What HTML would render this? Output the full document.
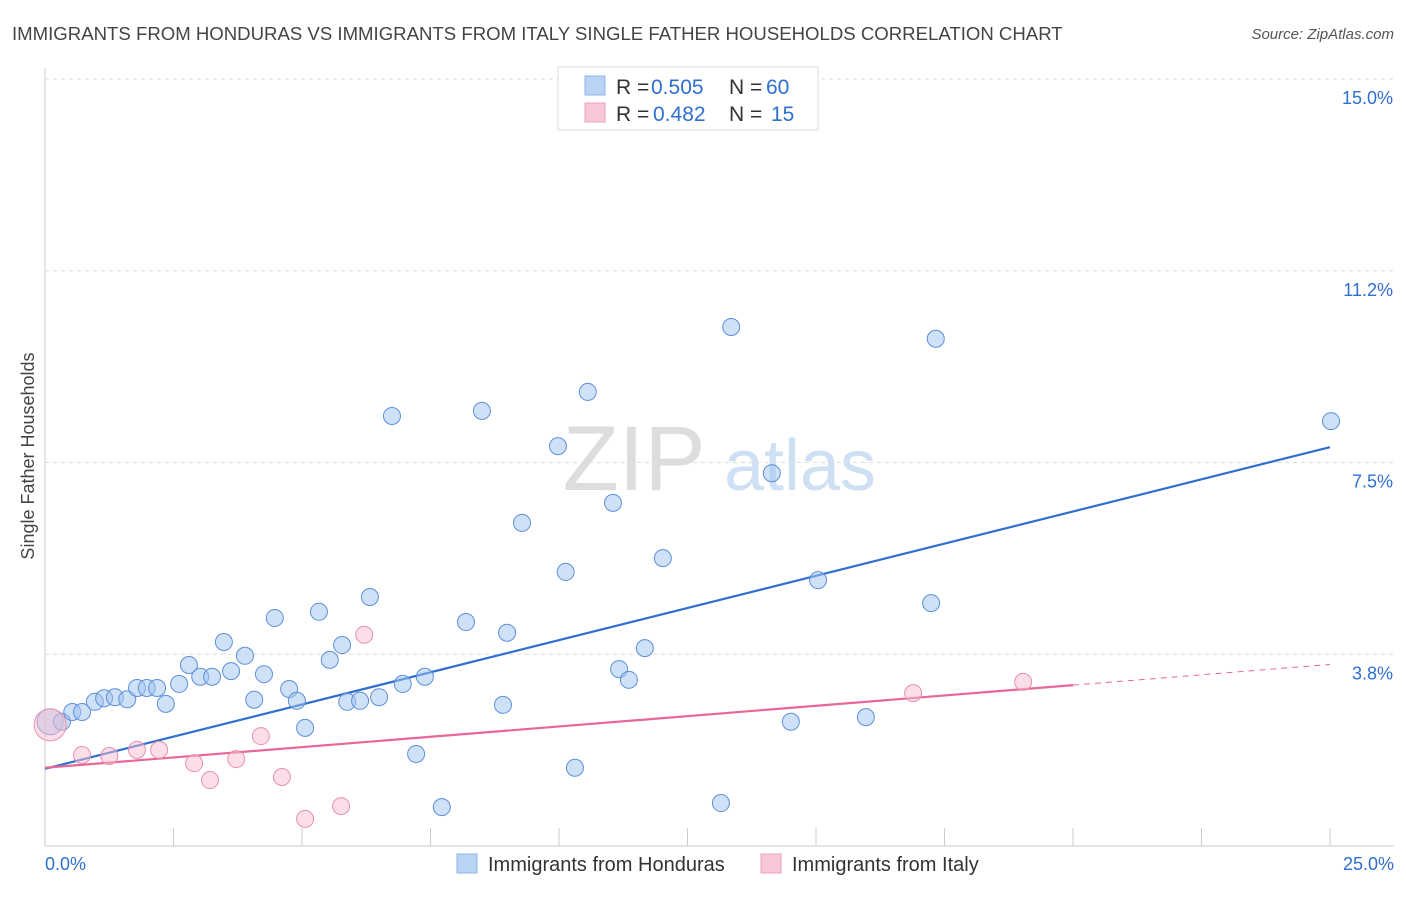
<!DOCTYPE html>
<html><head><meta charset="utf-8"><style>
body{margin:0;background:#fff;font-family:"Liberation Sans",sans-serif;}
svg text{font-family:"Liberation Sans",sans-serif;}
</style></head><body>
<svg id="chart" width="1406" height="892" xmlns="http://www.w3.org/2000/svg">
<text x="12" y="40" font-size="18.6" fill="#444">IMMIGRANTS FROM HONDURAS VS IMMIGRANTS FROM ITALY SINGLE FATHER HOUSEHOLDS CORRELATION CHART</text>
<text x="1394" y="39" font-size="15" fill="#555" font-style="italic" text-anchor="end">Source: ZipAtlas.com</text>
<text x="634" y="490" font-size="92" fill="#ddd" font-family="Liberation Serif" text-anchor="middle">ZIP</text>
<text x="800" y="490" font-size="72" fill="#cfe0f5" text-anchor="middle">atlas</text>
<text transform="translate(34,456) rotate(-90)" font-size="18" fill="#444" text-anchor="middle">Single Father Households</text>
<g id="grid"></g><g id="axes"></g><g id="lines"></g><g id="pts"></g>
<g>
<rect x="558" y="67" width="260" height="63" fill="#fff" stroke="#ddd"/>
<rect x="585" y="76" width="20" height="19" fill="#b9d3f5" stroke="#8fb5e8"/>
<rect x="585" y="103" width="20" height="19" fill="#f9c8d6" stroke="#f0a0b8"/>
<text x="616" y="94" font-size="21" fill="#333">R = <tspan x="651" fill="#2f6fd0">0.505</tspan></text>
<text x="729" y="94" font-size="21" fill="#333">N = <tspan x="766" fill="#2f6fd0">60</tspan></text>
<text x="616" y="121" font-size="21" fill="#333">R = <tspan x="653" fill="#2f6fd0">0.482</tspan></text>
<text x="729" y="121" font-size="21" fill="#333">N = <tspan x="771" fill="#2f6fd0">15</tspan></text>
</g>
<g>
<rect x="457" y="854" width="20" height="19" fill="#b9d3f5" stroke="#8fb5e8"/>
<text x="488" y="871" font-size="20" fill="#333">Immigrants from Honduras</text>
<rect x="761" y="854" width="20" height="19" fill="#f9c8d6" stroke="#f0a0b8"/>
<text x="792" y="871" font-size="20" fill="#333">Immigrants from Italy</text>
</g>
</svg>
<script>
const blueX=[0.10,0.33,0.53,0.72,0.97,1.15,1.36,1.60,1.79,1.98,2.18,2.35,2.61,2.80,3.02,3.25,3.48,3.62,3.89,4.07,4.26,4.47,4.75,4.90,5.06,5.33,5.54,5.78,5.88,6.13,6.32,6.50,6.75,6.96,7.22,7.39,7.72,8.19,8.50,8.91,8.99,9.28,9.98,10.13,10.31,10.56,11.05,11.17,11.36,11.67,12.02,13.15,13.35,14.14,14.51,15.04,15.97,17.24,17.33,25.02];
const blueY=[2.43,2.43,2.62,2.62,2.82,2.89,2.91,2.87,3.09,3.09,3.09,2.78,3.17,3.54,3.31,3.31,3.99,3.42,3.72,2.86,3.36,4.46,3.07,2.84,2.31,4.58,3.64,3.93,2.82,2.84,4.87,2.91,8.41,3.17,1.80,3.31,0.76,4.38,8.51,2.76,4.17,6.32,7.82,5.36,1.53,8.88,6.71,3.46,3.25,3.87,5.63,0.84,10.15,7.29,2.43,5.20,2.52,4.75,9.92,8.31];
const pinkX=[0.10,0.72,1.25,1.79,2.22,2.90,3.21,3.72,4.20,4.61,5.06,5.76,6.21,16.89,19.03];
const pinkY=[2.37,1.78,1.76,1.88,1.88,1.62,1.29,1.70,2.15,1.35,0.53,0.78,4.13,2.99,3.21];
const blueTrend=[1.51,7.80];
const pinkTrend=[1.53,3.55];
const yTicks=[3.8,7.5,11.2,15.0];
const yTickVals=[3.75,7.5,11.25,15.0];
const NS="http://www.w3.org/2000/svg";
const X=v=>45+v/25*1285, Y=v=>846-v/15*767;
function mk(tag,attrs,parent,text){const e=document.createElementNS(NS,tag);for(const k in attrs)e.setAttribute(k,attrs[k]);if(text!==undefined)e.textContent=text;document.getElementById(parent).appendChild(e);return e;}
yTickVals.forEach((v,i)=>{
 const g=mk('line',{x1:45,x2:1394,y1:Y(v),y2:Y(v),stroke:'#ddd','stroke-dasharray':'4,4'},'grid');
 
 
 const t=mk('text',{x:1393,y:Y(v)+25,'font-size':18,fill:'#2f6fd0','text-anchor':'end'},'axes',yTicks[i].toFixed(1)+'%');
 
 
});
const ax=mk('line',{x1:45,x2:1394,y1:846,y2:846,stroke:'#ccc'},'axes');


const ay=mk('line',{x1:45,x2:45,y1:68,y2:846,stroke:'#ccc'},'axes');


for(let i=0;i<=10;i++){const t=mk('line',{x1:X(i*2.5),x2:X(i*2.5),y1:828,y2:846,stroke:'#ccc'},'axes');
 
 }
const xl=mk('text',{x:45,y:870,'font-size':18,fill:'#2f6fd0'},'axes','0.0%');


const xr=mk('text',{x:1394,y:870,'font-size':18,fill:'#2f6fd0','text-anchor':'end'},'axes','25.0%');


const bl=mk('line',{x1:X(0),y1:Y(blueTrend[0]),x2:X(25),y2:Y(blueTrend[1]),stroke:'#2f6fd0','stroke-width':2.2},'lines');


const pAt=x=>pinkTrend[0]+(pinkTrend[1]-pinkTrend[0])*x/25;
const pl=mk('line',{x1:X(0),y1:Y(pAt(0)),x2:X(20),y2:Y(pAt(20)),stroke:'#e8679a','stroke-width':2.2},'lines');


const pd=mk('line',{x1:X(20),y1:Y(pAt(20)),x2:X(25),y2:Y(pAt(25)),stroke:'#e8679a','stroke-width':1,'stroke-dasharray':'6,5'},'lines');


blueX.forEach((x,i)=>{const c=mk('circle',{cx:X(x),cy:Y(blueY[i]),r:i===0?13:8.5,fill:'rgba(160,195,240,0.5)',stroke:'#5d8fd8','stroke-width':1},'pts');
 
 });
pinkX.forEach((x,i)=>{const c=mk('circle',{cx:X(x),cy:Y(pinkY[i]),r:i===0?16:8.5,fill:'rgba(248,190,210,0.5)',stroke:'#e890b0','stroke-width':1},'pts');
 
 });
</script>
</body></html>
